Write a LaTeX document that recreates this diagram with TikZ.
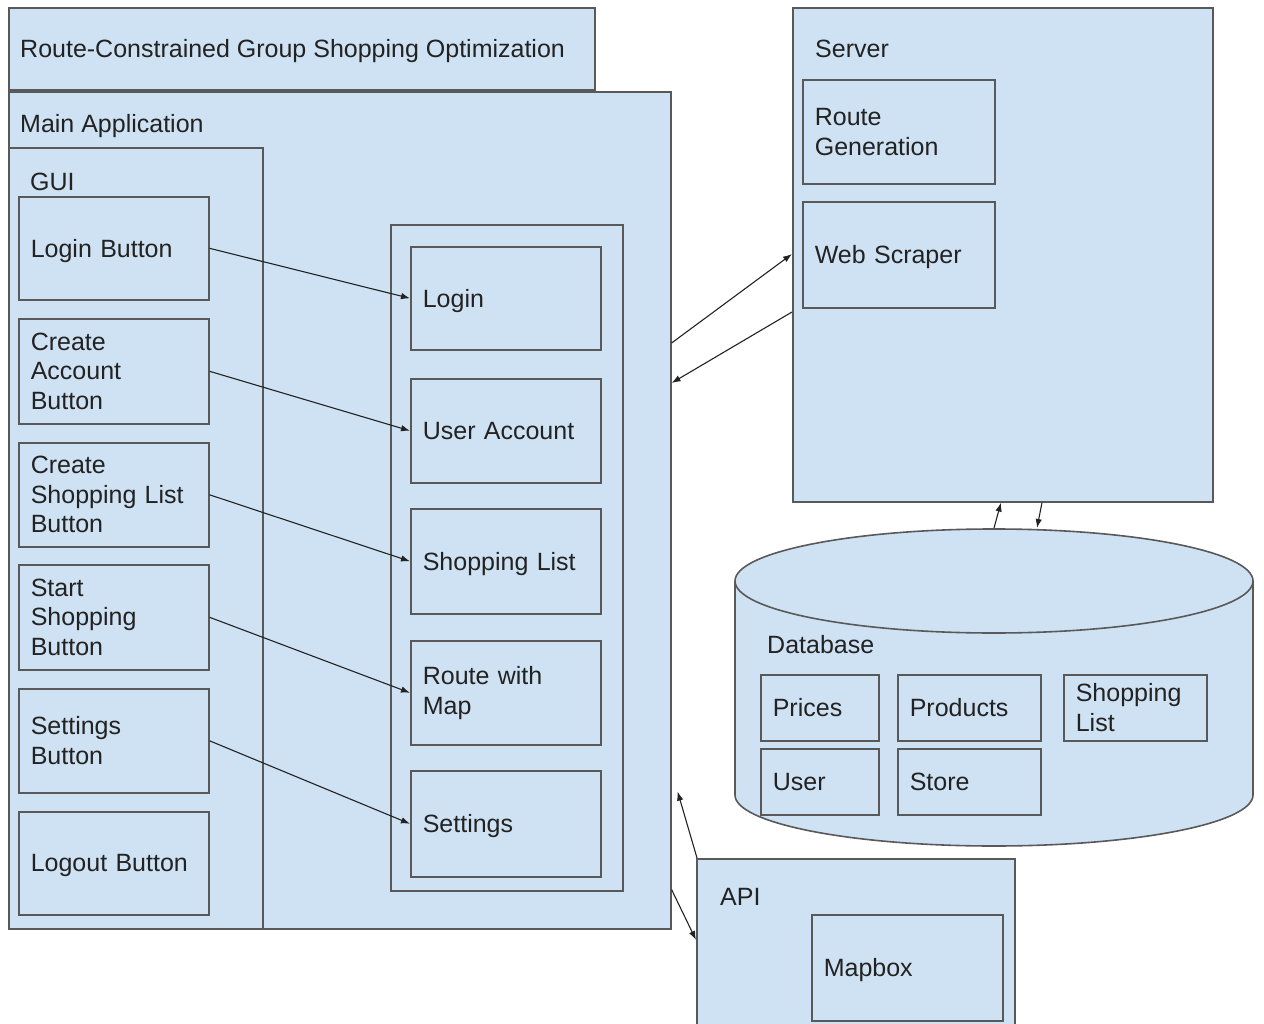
\documentclass[tikz,border=0pt]{standalone}
\usepackage{fontspec}
\setmainfont{Liberation Sans}
\usetikzlibrary{arrows.meta,calc}
\definecolor{panelblue}{HTML}{CFE2F3}
\definecolor{edge}{HTML}{595959}
\definecolor{ink}{HTML}{222222}

\begin{document}
\begin{tikzpicture}[x=1pt,y=-1pt,
  every node/.style={font=\fontsize{25}{29.5}\selectfont, text=ink},
  panel/.style={draw=edge, fill=panelblue, line width=1.6pt, rectangle,
    anchor=north west, inner sep=0pt},
  box/.style={draw=edge, fill=panelblue, line width=1.6pt, rectangle,
    anchor=north west, inner xsep=12pt, inner ysep=0pt, align=left},
  oneline/.style={box, text depth=0pt},
  caption/.style={anchor=base west, inner sep=0pt},
  link/.style={draw=ink, line width=1.1pt, -{Latex[length=9pt,width=6.5pt]}}]

\useasboundingbox (0,0) rectangle (1264,1024);
\clip (0,0) rectangle (1264,1024);

% ---- title bar ----
\node[panel, minimum width=586pt, minimum height=82pt] (titlebar) at (8,7) {};
\node[caption] (titletext) at (20,57.5) {Route-Constrained Group Shopping Optimization};

% ---- main application ----
\node[panel, minimum width=662pt, minimum height=837pt] (main) at (8,91) {};
\node[caption] (maincap) at (20,132.5) {Main Application};

% GUI column
\node[panel, minimum width=254pt, minimum height=781pt] (gui) at (8,147) {};
\node[caption] (guicap) at (30,190.5) {GUI};

\node[oneline, text width=166pt, minimum height=103pt] (loginbtn)   at (18,196) {Login Button};
\node[box, text width=166pt, minimum height=105pt] (accountbtn) at (18,318) {Create\\Account\\Button};
\node[box, text width=166pt, minimum height=104pt] (listbtn)    at (18,442) {Create\\Shopping List\\Button};
\node[box, text width=166pt, minimum height=105pt] (startbtn)   at (18,564) {Start\\Shopping\\Button};
\node[box, text width=166pt, minimum height=104pt] (settingsbtn) at (18,688) {Settings\\Button};
\node[oneline, text width=166pt, minimum height=103pt] (logoutbtn)  at (18,811) {Logout Button};

% feature column
\node[panel, minimum width=232pt, minimum height=666pt] (features) at (390,224) {};
\node[oneline, text width=166pt, minimum height=103pt] (login)    at (410,246) {Login};
\node[oneline, text width=166pt, minimum height=104pt] (account)  at (410,378) {User Account};
\node[oneline, text width=166pt, minimum height=105pt] (list)     at (410,508) {Shopping List};
\node[box, text width=166pt, minimum height=104pt] (routemap) at (410,640) {Route with\\Map};
\node[oneline, text width=166pt, minimum height=106pt] (settings) at (410,770) {Settings};

\draw[link] (loginbtn.east)    -- (login.west);
\draw[link] (accountbtn.east)  -- (account.west);
\draw[link] (listbtn.east)     -- (list.west);
\draw[link] (startbtn.east)    -- (routemap.west);
\draw[link] (settingsbtn.east) -- (settings.west);

% ---- server ----
\node[panel, minimum width=420pt, minimum height=494pt] (server) at (792,7) {};
\node[caption] (servercap) at (815,57.5) {Server};
\node[box, text width=168pt, minimum height=104pt] (routegen) at (802,79) {Route\\Generation};
\node[oneline, text width=168pt, minimum height=106pt] (scraper)  at (802,201) {Web Scraper};

% ---- database ----
\node[inner sep=0pt, minimum width=518pt, minimum height=319pt, anchor=north west] (db) at (735,528) {};
\draw[draw=edge, line width=1.6pt, fill=panelblue]
  (735,581) -- (735,795) arc[start angle=180, end angle=360, x radius=259pt, y radius=51pt] -- (1253,581);
\draw[draw=edge, line width=1.6pt, fill=panelblue] (994,581) ellipse [x radius=259pt, y radius=52pt];
\node[caption] (dbcap) at (767,653.5) {Database};
\node[oneline, text width=94pt,  minimum height=66pt] (prices)   at (760,674)  {Prices};
\node[oneline, text width=119pt, minimum height=66pt] (products) at (897,674)  {Products};
\node[box, text width=119pt, minimum height=66pt] (dblist)   at (1063,674) {Shopping\\List};
\node[oneline, text width=94pt,  minimum height=66pt] (user)     at (760,748)  {User};
\node[oneline, text width=119pt, minimum height=66pt] (store)    at (897,748)  {Store};

% ---- external API ----
\node[panel, minimum width=318pt, minimum height=190pt] (api) at (696,858) {};
\node[caption] (apicap) at (720,905.5) {API};
\node[oneline, text width=167pt, minimum height=106pt] (mapbox) at (811,914) {Mapbox};

% ---- connections between the parts ----
\draw[link] ([yshift=-252pt]main.north east) -- ([yshift=-247pt]server.north west);
\draw[link] ([yshift=-305pt]server.north west) -- ([yshift=-292pt]main.north east);
\draw[link] ([xshift=259pt]db.north west) -- ([xshift=209pt]server.south west);
\draw[link] ([xshift=250pt]server.south west) -- ([xshift=302pt]db.north west);
\draw[link] ([xshift=1pt]api.north west) -- ([shift={(6pt,138pt)}]main.south east);
\draw[link] ([yshift=40pt]main.south east) -- ([yshift=-82pt]api.north west);
\end{tikzpicture}
\end{document}
